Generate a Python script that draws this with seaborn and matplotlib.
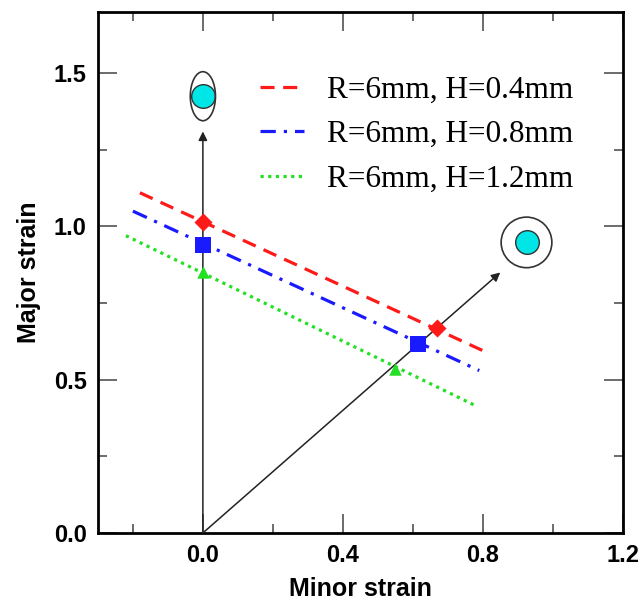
import numpy as np
import pandas as pd
import matplotlib
matplotlib.use('Agg')
import matplotlib.pyplot as plt
from matplotlib.patches import Ellipse
import seaborn as sns

# forming limit lines (end points)
red_x = [-0.18, 0.80]
red_y = [1.11, 0.595]
blue_x = [-0.20, 0.79]
blue_y = [1.05, 0.53]
green_x = [-0.22, 0.78]
green_y = [0.97, 0.415]

# limit points on the strain paths
red_px = [0.0, 0.67]
red_py = [1.015, 0.67]
blue_px = [0.0, 0.615]
blue_py = [0.94, 0.615]
green_px = [0.0, 0.55]
green_py = [0.85, 0.535]

# strain path arrows (start -> end)
path_x0 = [0.0, 0.0]
path_y0 = [0.0, 0.0]
path_x1 = [0.0, 0.85]
path_y1 = [1.31, 0.85]

# circles showing the deformed grid
circ_x = [0.0, 0.925]
circ_y = [1.425, 0.948]

labels = ['R=6mm, H=0.4mm', 'R=6mm, H=0.8mm', 'R=6mm, H=1.2mm']

sns.set_style('ticks')
plt.rcParams['font.family'] = ['Liberation Sans', 'DejaVu Sans']
plt.rcParams['text.color'] = 'black'
plt.rcParams['axes.labelcolor'] = 'black'
plt.rcParams['xtick.labelcolor'] = 'black'
plt.rcParams['ytick.labelcolor'] = 'black'

fig = plt.figure(figsize=(6.4, 6.08), dpi=100)
ax = fig.add_axes([0.153, 0.1234, 0.82, 0.857])

lw = 2.3
sns.lineplot(x=red_x, y=red_y, ax=ax, color='#ff1a1a', lw=lw,
             linestyle=(0, (4.4, 2.7)), label=labels[0])
sns.lineplot(x=blue_x, y=blue_y, ax=ax, color='#1a1aff', lw=lw,
             linestyle=(0, (4.8, 2.5, 1.0, 2.5)), label=labels[1])
sns.lineplot(x=green_x, y=green_y, ax=ax, color='#22e022', lw=lw,
             linestyle=(0, (1.0, 1.4)), label=labels[2])

# strain paths
for x0, y0, x1, y1 in zip(path_x0, path_y0, path_x1, path_y1):
    ax.annotate('', xy=(x1, y1), xytext=(x0, y0),
                arrowprops=dict(arrowstyle='-|>', color='#222222', lw=1.1,
                                mutation_scale=13, shrinkA=0, shrinkB=0))

sns.scatterplot(x=red_px, y=red_py, ax=ax, color='#ff1a1a', marker='D',
                s=85, linewidth=0, zorder=5)
sns.scatterplot(x=blue_px, y=blue_py, ax=ax, color='#1a1aff', marker='s',
                s=130, linewidth=0, zorder=5)
sns.scatterplot(x=green_px, y=green_py, ax=ax, color='#22e022', marker='^',
                s=80, linewidth=0, zorder=5)

# cyan grid circles with their deformed outlines
sns.scatterplot(x=circ_x, y=circ_y, ax=ax, color='#00e5e5', s=290,
                edgecolor='#333333', linewidth=1.0, zorder=6)
ax.add_patch(Ellipse((circ_x[0], circ_y[0]), 0.072, 0.160, fill=False,
                     edgecolor='#333333', lw=1.2, zorder=6))
ax.add_patch(Ellipse((circ_x[1], circ_y[1]), 0.145, 0.165, fill=False,
                     edgecolor='#333333', lw=1.2, zorder=6))

ax.set_xlim(-0.3, 1.2)
ax.set_ylim(0, 1.7)
ax.set_xticks([0.0, 0.4, 0.8, 1.2])
ax.set_xticks([-0.2, 0.2, 0.6, 1.0], minor=True)
ax.set_yticks([0.0, 0.5, 1.0, 1.5])
ax.set_yticks([0.25, 0.75, 1.25], minor=True)
ax.set_xticklabels(['0.0', '0.4', '0.8', '1.2'])
ax.set_yticklabels(['0.0', '0.5', '1.0', '1.5'])

ax.tick_params(which='both', direction='in', top=True, right=True,
               color='#444444', width=1.1)
ax.tick_params(which='major', length=14, labelsize=17, pad=8)
ax.tick_params(which='minor', length=6.5)
for t in ax.get_xticklabels() + ax.get_yticklabels():
    t.set_fontweight('bold')
for s in ax.spines.values():
    s.set_linewidth(2.0)
    s.set_color('black')

ax.set_xlabel('Minor strain', fontsize=18, fontweight='bold', labelpad=7)
ax.set_ylabel('Major strain', fontsize=18, fontweight='bold', labelpad=9)

ax.legend(loc='upper left', bbox_to_anchor=(0.309, 0.878), frameon=False,
          borderaxespad=0, borderpad=0, handlelength=1.4, handletextpad=0.75,
          labelspacing=0.5, prop={'family': 'Liberation Serif', 'size': 22.5})

plt.savefig('out.png', dpi=100)
